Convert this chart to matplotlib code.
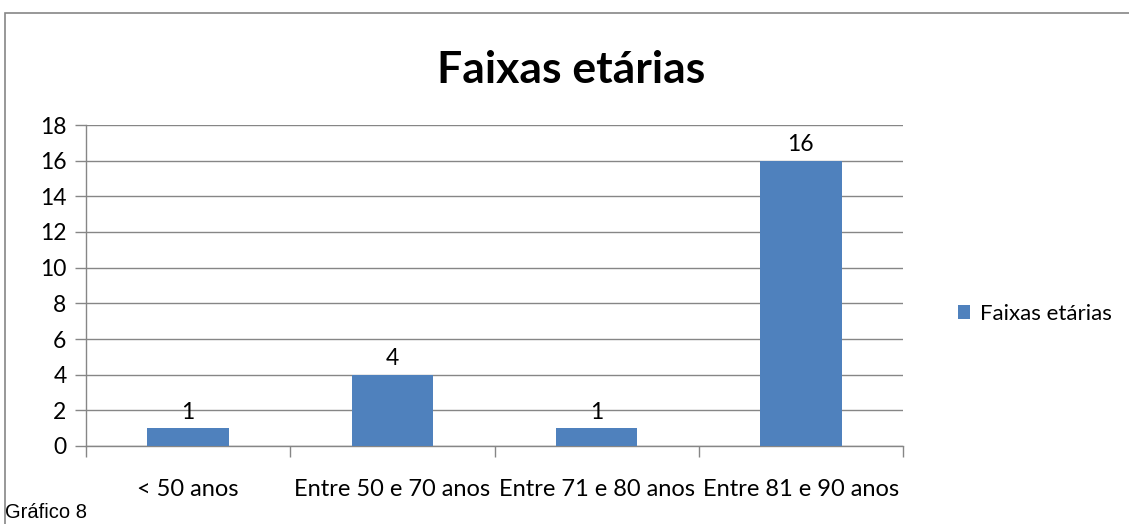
import matplotlib
matplotlib.use("Agg")
import matplotlib.pyplot as plt
from matplotlib.patches import Rectangle
import numpy as np

categories = ["< 50 anos", "Entre 50 e 70 anos", "Entre 71 e 80 anos", "Entre 81 e 90 anos"]
values = [1, 4, 1, 16]
series_name = "Faixas etárias"
title = "Faixas etárias"
caption = "Gráfico 8"

BAR = "#4f81bd"
GRID = "#868686"
FONT = ["Lato", "DejaVu Sans"]

W, H = 1129, 524
fig = plt.figure(figsize=(W / 100, H / 100), dpi=100)

# outer chart frame (top and left edges visible, right/bottom run off the page)
fig.add_artist(Rectangle((5 / W, -0.1), 1.2, (H - 13) / H + 0.1, transform=fig.transFigure,
                         fill=False, edgecolor=GRID, linewidth=1.2))

ax = fig.add_axes([86 / W, 1 - 446 / H, (903 - 86) / W, (446 - 125) / H])
x = np.arange(len(categories))
bars = ax.bar(x, values, width=0.4, color=BAR, label=series_name, zorder=3)
for xi, v in zip(x, values):
    ax.annotate(str(v), (xi, v), xytext=(0, 4), textcoords="offset points",
                ha="center", va="bottom", fontsize=16.5, family=FONT, color="black")

ax.set_xlim(-0.5, len(categories) - 0.5)
ax.set_ylim(0, 18)
ax.set_yticks(np.arange(0, 19, 2))
ax.yaxis.grid(True, color=GRID, linewidth=1)
ax.set_axisbelow(True)
for s in ["top", "right"]:
    ax.spines[s].set_visible(False)
for s in ["left", "bottom"]:
    ax.spines[s].set_color(GRID)
    ax.spines[s].set_linewidth(1)

ax.set_xticks(np.arange(-0.5, len(categories), 1.0))
ax.set_xticklabels([])
ax.set_xticks(x, minor=True)
ax.set_xticklabels(categories, minor=True, fontsize=17, family=FONT)
ax.tick_params(axis="x", which="major", length=8, color=GRID, width=1, direction="out")
ax.tick_params(axis="x", which="minor", length=0, pad=24)
ax.tick_params(axis="y", length=8, color=GRID, width=1, labelsize=16.5, pad=6)
for lab in ax.get_yticklabels():
    lab.set_family(FONT)

fig.text(571 / W, 1 - 70 / H, title, ha="center", va="center", fontsize=32,
         fontweight="bold", family=FONT)

fig.legend(handles=[bars], labels=[series_name], loc="center left",
           bbox_to_anchor=(938 / W, 1 - 314 / H), frameon=False,
           prop={"family": FONT, "size": 16}, handlelength=0.55, handleheight=0.55,
           handletextpad=0.45)

fig.text(5 / W, 1 - 512 / H, caption, ha="left", va="center", fontsize=14.5,
         family=["Liberation Sans", "DejaVu Sans"])

fig.savefig("out.png", dpi=100)
